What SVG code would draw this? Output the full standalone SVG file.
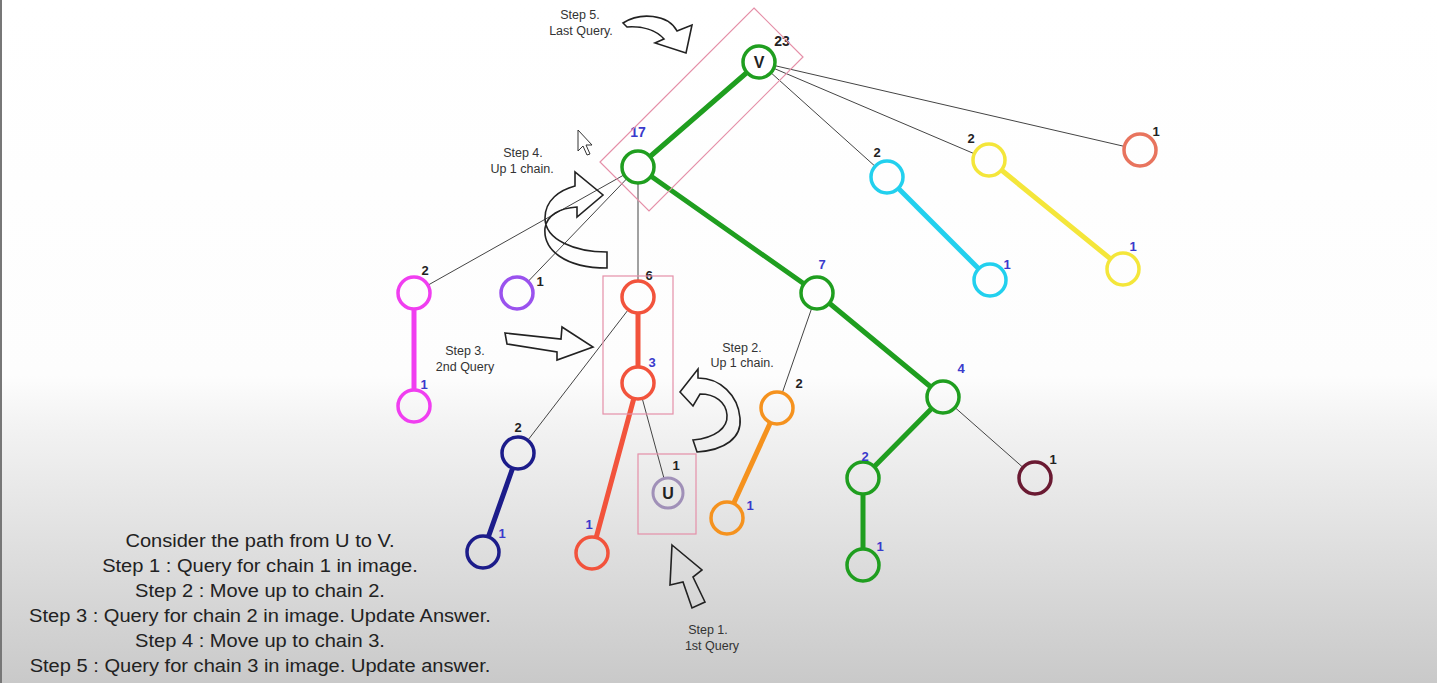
<svg xmlns="http://www.w3.org/2000/svg" width="1437" height="683" viewBox="0 0 1437 683">
<defs>
<linearGradient id="bg" gradientUnits="userSpaceOnUse" x1="0" y1="0" x2="0" y2="683">
<stop offset="0" stop-color="#ffffff"/>
<stop offset="0.55" stop-color="#fdfdfd"/>
<stop offset="0.62" stop-color="#f3f3f3"/>
<stop offset="1" stop-color="#c9c9c9"/>
</linearGradient>
<style>
.thin{stroke:#444;stroke-width:1;fill:none}
.thick{stroke-width:5;fill:none;stroke-linecap:round}
.node{fill:url(#bg);stroke-width:3.5}
.lb{font-family:"Liberation Sans",Arial,sans-serif;font-weight:bold;font-size:13px;text-anchor:middle;fill:#222}
.lblue{fill:#3a3acc}
.step{font-family:"Liberation Sans",Arial,sans-serif;font-size:12.5px;text-anchor:middle;fill:#333}
.main{font-family:"Liberation Sans",Arial,sans-serif;font-size:18.5px;text-anchor:middle;fill:#222}
.box{fill:none;stroke:#e58fa8;stroke-width:1.2}
.arrow{fill:none;stroke:#222;stroke-width:1.6;stroke-linejoin:miter}
</style>
</defs>
<rect x="0" y="0" width="1437" height="683" fill="url(#bg)"/>
<rect x="0" y="0" width="2" height="683" fill="#777"/>

<g id="connectors">
<line class="thin" x1="759" y1="62" x2="1140" y2="150"/>
<line class="thin" x1="759" y1="62" x2="989" y2="160"/>
<line class="thin" x1="759" y1="62" x2="887" y2="177"/>
<line class="thin" x1="638" y1="167" x2="414" y2="293"/>
<line class="thin" x1="638" y1="167" x2="517" y2="293"/>
<line class="thin" x1="638" y1="167" x2="638" y2="297"/>
<line class="thin" x1="638" y1="297" x2="518" y2="453"/>
<line class="thin" x1="638" y1="383" x2="668" y2="493"/>
<line class="thin" x1="817" y1="293" x2="777" y2="408"/>
<line class="thin" x1="943" y1="397" x2="1035" y2="478"/>
<line class="thick" stroke="#1f9e1f" x1="759" y1="62" x2="638" y2="167"/>
<line class="thick" stroke="#1f9e1f" x1="638" y1="167" x2="817" y2="293"/>
<line class="thick" stroke="#1f9e1f" x1="817" y1="293" x2="943" y2="397"/>
<line class="thick" stroke="#1f9e1f" x1="943" y1="397" x2="863" y2="478"/>
<line class="thick" stroke="#1f9e1f" x1="863" y1="478" x2="863" y2="565"/>
<line class="thick" stroke="#22d0ee" x1="887" y1="177" x2="990" y2="280"/>
<line class="thick" stroke="#f4e63a" x1="989" y1="160" x2="1123" y2="269"/>
<line class="thick" stroke="#f03ef0" x1="414" y1="293" x2="414" y2="406"/>
<line class="thick" stroke="#f2533c" x1="638" y1="297" x2="638" y2="383"/>
<line class="thick" stroke="#f2533c" x1="638" y1="383" x2="592" y2="553"/>
<line class="thick" stroke="#1c1c8a" x1="518" y1="453" x2="483" y2="552"/>
<line class="thick" stroke="#f5921e" x1="777" y1="408" x2="727" y2="518"/>
</g>

<g id="n-v"><circle class="node" stroke="#1f9e1f" cx="759" cy="62" r="16"/><text class="lb" x="759" y="68" style="font-size:16px">V</text><text class="lb" x="782" y="46" style="font-size:14px">23</text></g>
<g id="n-17"><circle class="node" stroke="#1f9e1f" cx="638" cy="167" r="16"/><text class="lb lblue" x="638" y="137" style="font-size:14px">17</text></g>
<g id="n-7"><circle class="node" stroke="#1f9e1f" cx="817" cy="293" r="16"/><text class="lb lblue" x="822" y="269">7</text></g>
<g id="n-4"><circle class="node" stroke="#1f9e1f" cx="943" cy="397" r="16"/><text class="lb lblue" x="961" y="373">4</text></g>
<g id="n-g2"><circle class="node" stroke="#1f9e1f" cx="863" cy="478" r="16"/><text class="lb lblue" x="865" y="461">2</text></g>
<g id="n-g1"><circle class="node" stroke="#1f9e1f" cx="863" cy="565" r="16"/><text class="lb lblue" x="880" y="551">1</text></g>
<g id="n-c2"><circle class="node" stroke="#22d0ee" cx="887" cy="177" r="16"/><text class="lb" x="877" y="157">2</text></g>
<g id="n-c1"><circle class="node" stroke="#22d0ee" cx="990" cy="280" r="16"/><text class="lb lblue" x="1007" y="269">1</text></g>
<g id="n-y2"><circle class="node" stroke="#f4e63a" cx="989" cy="160" r="16"/><text class="lb" x="971" y="143">2</text></g>
<g id="n-y1"><circle class="node" stroke="#f4e63a" cx="1123" cy="269" r="16"/><text class="lb lblue" x="1133" y="251">1</text></g>
<g id="n-s1"><circle class="node" stroke="#e8745e" cx="1140" cy="150" r="16"/><text class="lb" x="1156" y="136">1</text></g>
<g id="n-m2"><circle class="node" stroke="#f03ef0" cx="414" cy="293" r="16"/><text class="lb" x="425" y="275">2</text></g>
<g id="n-m1"><circle class="node" stroke="#f03ef0" cx="414" cy="406" r="16"/><text class="lb lblue" x="424" y="389">1</text></g>
<g id="n-p1"><circle class="node" stroke="#9a52ee" cx="517" cy="293" r="16"/><text class="lb" x="540" y="286">1</text></g>
<g id="n-r6"><circle class="node" stroke="#f2533c" cx="638" cy="297" r="16"/><text class="lb" x="649" y="280">6</text></g>
<g id="n-r3"><circle class="node" stroke="#f2533c" cx="638" cy="383" r="16"/><text class="lb lblue" x="652" y="367">3</text></g>
<g id="n-r1"><circle class="node" stroke="#f2533c" cx="592" cy="553" r="16"/><text class="lb lblue" x="589" y="529">1</text></g>
<g id="n-u"><circle class="node" stroke="#a090b8" style="stroke-width:3" cx="668" cy="493" r="15"/><text class="lb" x="668" y="499" style="font-size:16px">U</text><text class="lb" x="676" y="470">1</text></g>
<g id="n-n2"><circle class="node" stroke="#1c1c8a" cx="518" cy="453" r="16"/><text class="lb" x="518" y="432">2</text></g>
<g id="n-n1"><circle class="node" stroke="#1c1c8a" cx="483" cy="552" r="16"/><text class="lb lblue" x="502" y="538">1</text></g>
<g id="n-o2"><circle class="node" stroke="#f5921e" cx="777" cy="408" r="16"/><text class="lb" x="799" y="388">2</text></g>
<g id="n-o1"><circle class="node" stroke="#f5921e" cx="727" cy="518" r="16"/><text class="lb lblue" x="750" y="510">1</text></g>
<g id="n-mr"><circle class="node" stroke="#6a1a32" cx="1035" cy="478" r="16"/><text class="lb" x="1053" y="464">1</text></g>

<g id="boxes">
<polygon class="box" points="754,8 803,57 649,211 600,162"/>
<rect class="box" x="603" y="276" width="70" height="138"/>
<rect class="box" x="638" y="454" width="58" height="80"/>
</g>

<g id="annotations">
<path class="arrow" d="M623,23 C640,12 668,14 677,31 L692,25 L686,53 L655,43 L664,39 C656,30 642,26 627,27 Z"/>
<text class="step" x="580" y="19">Step 5.</text>
<text class="step" x="581" y="35">Last Query.</text>

<path d="M578,130 L578,151 L583,146 L587,155 L590,154 L586,145 L592,145 Z" fill="#fff" stroke="#333" stroke-width="1"/>

<path class="arrow" d="M607,252 C575,252 545,240 545,218 C545,200 560,190 575,186 L575,172 L603,195 L577,217 L577,207 C560,208 547,215 545,228 C543,250 565,268 607,268 Z"/>
<text class="step" x="523" y="157">Step 4.</text>
<text class="step" x="522" y="173">Up 1 chain.</text>

<path class="arrow" d="M505,333 L561,339 L562,327 L593,347 L557,360 L557,352 L507,344 Z"/>
<text class="step" x="465" y="355">Step 3.</text>
<text class="step" x="465" y="371">2nd Query</text>

<path class="arrow" d="M680,392 L698,369 L698,378 C720,378 738,395 740,418 C742,438 725,450 697,452 L693,440 C715,438 728,428 727,415 C726,402 715,394 700,394 L693,406 Z"/>
<text class="step" x="742" y="352">Step 2.</text>
<text class="step" x="742" y="367">Up 1 chain.</text>

<path class="arrow" d="M672,545 L702,570 L693,577 L705,602 L692,608 L683,582 L670,585 Z"/>
<text class="step" x="708" y="634">Step 1.</text>
<text class="step" x="712" y="650">1st Query</text>
</g>

<g id="description" transform="translate(260,0) scale(1.085,1) translate(-260,0)">
<text class="main" x="260" y="547">Consider the path from U to V.</text>
<text class="main" x="260" y="572">Step 1 : Query for chain 1 in image.</text>
<text class="main" x="260" y="597">Step 2 : Move up to chain 2.</text>
<text class="main" x="260" y="622">Step 3 : Query for chain 2 in image. Update Answer.</text>
<text class="main" x="260" y="647">Step 4 : Move up to chain 3.</text>
<text class="main" x="260" y="672">Step 5 : Query for chain 3 in image. Update answer.</text>
</g>
</svg>
